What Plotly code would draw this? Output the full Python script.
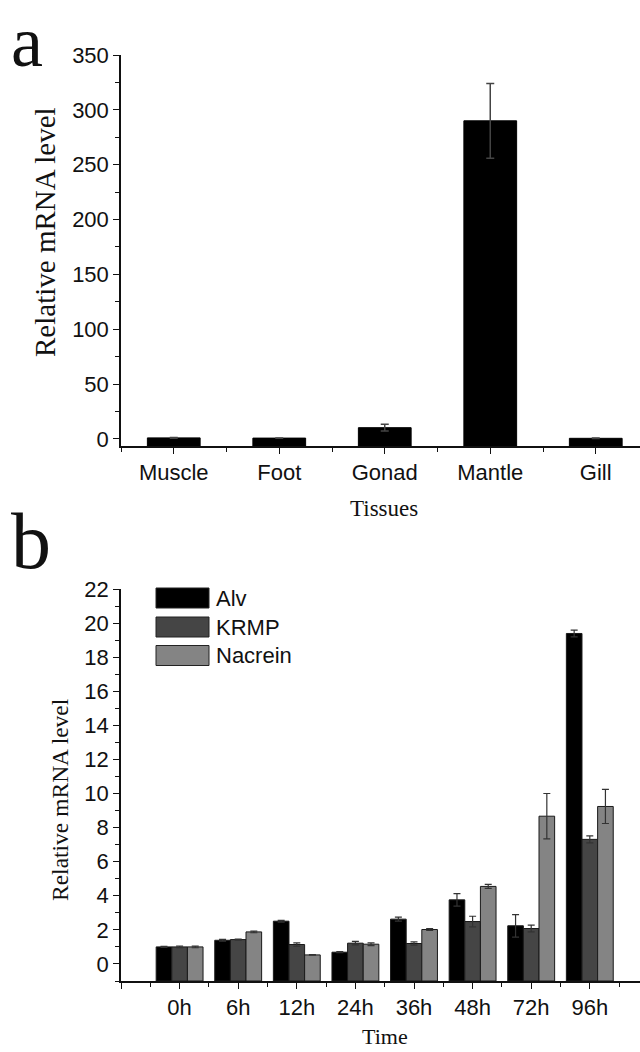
import plotly.graph_objects as go

# ---------------- data ----------------
tissues = ["Muscle", "Foot", "Gonad", "Mantle", "Gill"]
tissue_vals = [1.0, 0.8, 10.3, 290.0, 0.6]
tissue_err = [0.4, 0.2, 3.1, 34.0, 0.2]

times = ["0h", "6h", "12h", "24h", "36h", "48h", "72h", "96h"]
alv = [1.0, 1.39, 2.51, 0.69, 2.63, 3.76, 2.24, 19.39]
alv_err = [0.03, 0.05, 0.05, 0.03, 0.12, 0.37, 0.66, 0.2]
krmp = [1.0, 1.43, 1.14, 1.22, 1.20, 2.49, 2.08, 7.31]
krmp_err = [0.05, 0.03, 0.10, 0.10, 0.10, 0.31, 0.20, 0.20]
nacrein = [1.0, 1.88, 0.53, 1.16, 2.02, 4.55, 8.67, 9.24]
nacrein_err = [0.05, 0.05, 0.02, 0.08, 0.05, 0.12, 1.33, 1.0]

series_names = ["Alv", "KRMP", "Nacrein"]
series_vals = [alv, krmp, nacrein]
series_errs = [alv_err, krmp_err, nacrein_err]
series_colors = ["#000000", "#454545", "#848484"]

W, H = 640, 1052
YA_MIN, YA_MAX = -6.4, 350
YB_MIN, YB_MAX = -1, 22

SANS = "Liberation Sans, Arial, sans-serif"
SERIF = "Liberation Serif, Times New Roman, serif"

fig = go.Figure()

# panel a
fig.add_trace(go.Bar(
    x=list(range(len(tissues))),
    y=[v - YA_MIN for v in tissue_vals],
    base=YA_MIN,
    width=0.5,
    marker=dict(color="#000000", line=dict(color="#000000", width=1)),
    error_y=dict(type="data", array=tissue_err, visible=True,
                 color="#444444", thickness=1.5, width=4),
    xaxis="x", yaxis="y", showlegend=False,
))

# panel b
for name, vals, errs, col in zip(series_names, series_vals, series_errs, series_colors):
    fig.add_trace(go.Bar(
        x=list(range(len(times))),
        y=[v - YB_MIN for v in vals],
        base=YB_MIN,
        name=name,
        marker=dict(color=col, line=dict(color="#1a1a1a", width=1)),
        error_y=dict(type="data", array=errs, visible=True,
                     color="#333333", thickness=1.2, width=3.5),
        xaxis="x2", yaxis="y2", showlegend=False,
    ))

x_dom = [121 / W, 1.0]
ya_dom = [1 - 446 / H, 1 - 55 / H]
yb_dom = [1 - 981 / H, 1 - 589 / H]

axis_common = dict(showline=True, linecolor="#111111", linewidth=1.5, mirror=False,
                   showgrid=False, zeroline=False, ticks="outside", tickcolor="#111111",
                   tickwidth=1.2, ticklen=6, automargin=False,
                   tickfont=dict(family=SANS, size=22, color="#111111"))

fig.update_layout(
    width=W, height=H,
    margin=dict(l=0, r=0, t=0, b=0, pad=0),
    paper_bgcolor="white", plot_bgcolor="white",
    barmode="group", bargap=0.2, bargroupgap=0,
    xaxis=dict(domain=x_dom, anchor="y", range=[-0.5, -0.5 + 519 / 105.5],
               tickmode="array", tickvals=list(range(len(tissues))), ticktext=tissues,
               minor=dict(tick0=-0.5, dtick=1, ticks="outside", ticklen=4, tickcolor="#111111", tickwidth=1.2),
               **axis_common),
    yaxis=dict(domain=ya_dom, anchor="x", range=[YA_MIN, YA_MAX],
               tick0=0, dtick=50,
               minor=dict(tick0=0, dtick=25, ticks="outside", ticklen=4, tickcolor="#111111", tickwidth=1.2),
               **axis_common),
    xaxis2=dict(domain=x_dom, anchor="y2", range=[-1, -1 + 519 / 58.6],
                tickmode="array", tickvals=list(range(-1, len(times))), ticktext=[""] + times,
                minor=dict(tick0=-0.5, dtick=1, ticks="outside", ticklen=4, tickcolor="#111111", tickwidth=1.2),
                **axis_common),
    yaxis2=dict(domain=yb_dom, anchor="x2", range=[YB_MIN, YB_MAX],
                tick0=0, dtick=2,
                minor=dict(tick0=-1, dtick=1, ticks="outside", ticklen=4, tickcolor="#111111", tickwidth=1.2),
                **axis_common),
)

annotations = [
    dict(text="a", x=9 / W, y=1.0, xref="paper", yref="paper", xanchor="left", yanchor="top",
         showarrow=False, font=dict(family=SERIF, size=72, color="#111111")),
    dict(text="b", x=9 / W, y=1 - 587 / H, xref="paper", yref="paper", xanchor="left", yanchor="bottom",
         showarrow=False, font=dict(family=SERIF, size=80, color="#111111")),
    dict(text="Relative mRNA level", x=45 / W, y=1 - 232 / H, xref="paper", yref="paper",
         xanchor="center", yanchor="middle", textangle=-90, showarrow=False,
         font=dict(family=SERIF, size=29, color="#111111")),
    dict(text="Relative mRNA level", x=60 / W, y=1 - 800 / H, xref="paper", yref="paper",
         xanchor="center", yanchor="middle", textangle=-90, showarrow=False,
         font=dict(family=SERIF, size=23.5, color="#111111")),
    dict(text="Tissues", x=384 / W, y=1 - 508 / H, xref="paper", yref="paper",
         xanchor="center", yanchor="middle", showarrow=False,
         font=dict(family=SERIF, size=23, color="#111111")),
    dict(text="Time", x=385 / W, y=1 - 1036 / H, xref="paper", yref="paper",
         xanchor="center", yanchor="middle", showarrow=False,
         font=dict(family=SERIF, size=22, color="#111111")),
]

# custom legend (large swatches like the original)
shapes = []
leg_y_centers = [598, 627, 655.5]
for name, col, yc in zip(series_names, series_colors, leg_y_centers):
    shapes.append(dict(type="rect", xref="paper", yref="paper",
                       x0=156 / W, x1=209 / W, y0=1 - (yc + 10) / H, y1=1 - (yc - 10) / H,
                       fillcolor=col, line=dict(color="#222222", width=1)))
    annotations.append(dict(text=name, x=214 / W, y=1 - yc / H, xref="paper", yref="paper",
                            xanchor="left", yanchor="middle", showarrow=False,
                            font=dict(family=SANS, size=22, color="#111111")))

fig.update_layout(annotations=annotations, shapes=shapes)

fig.write_html(
    "out.html",
    config={"displayModeBar": False},
    post_script="document.body.style.margin='0';document.body.style.overflow='hidden';",
)
